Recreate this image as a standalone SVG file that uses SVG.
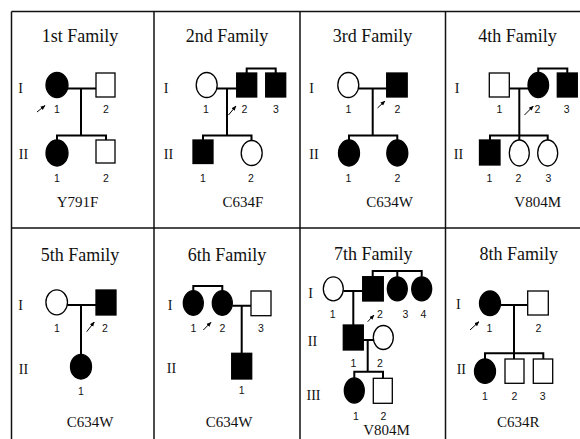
<svg xmlns="http://www.w3.org/2000/svg" width="580" height="439" viewBox="0 0 580 439">
<style>
.bg{fill:#fff}
.grid{stroke:#111;stroke-width:1.5;fill:none}
.ln{stroke:#000;stroke-width:2;fill:none}
.aff{fill:#000;stroke:#000;stroke-width:1.3}
.un{fill:#fff;stroke:#000;stroke-width:1.3}
.title{font-family:"Liberation Serif","Times New Roman",serif;font-size:18px;fill:#111;text-anchor:middle}
.mut{font-family:"Liberation Serif","Times New Roman",serif;font-size:15px;fill:#111;text-anchor:middle}
.gen{font-family:"Liberation Serif","Times New Roman",serif;font-size:14px;fill:#111;text-anchor:middle}
.num{font-family:"Liberation Sans",Arial,sans-serif;font-size:10.5px;fill:#111;text-anchor:middle}
.arr{stroke:#000;stroke-width:1;fill:none;marker-end:url(#ah)}
</style>
<defs>
<marker id="ah" viewBox="0 0 10 10" refX="9" refY="5" markerWidth="5" markerHeight="5" orient="auto" markerUnits="userSpaceOnUse">
<path d="M0,1 L10,5 L0,9 z" fill="#000"/>
</marker>
</defs>
<rect class="bg" x="0" y="0" width="580" height="439"/>
<g id="grid">
<line class="grid" x1="11.5" y1="11.5" x2="580" y2="11.5"/>
<line class="grid" x1="11.5" y1="228" x2="580" y2="228"/>
<line class="grid" x1="11.5" y1="11.5" x2="11.5" y2="439"/>
<line class="grid" x1="154" y1="11.5" x2="154" y2="439"/>
<line class="grid" x1="300" y1="11.5" x2="300" y2="439"/>
<line class="grid" x1="445.5" y1="11.5" x2="445.5" y2="439"/>
</g>

<!-- Panel 1 -->
<g id="family1">
<text class="title" x="80" y="42">1st Family</text>
<text class="gen" x="20.5" y="93">I</text>
<text class="gen" x="23.5" y="159">II</text>
<g id="connectors1">
<path class="ln" d="M67,88.5 H96 M81,88.5 V135.5 M57,140 V135.5 H106 V140"/>
</g>
<g id="f1-I-1"><ellipse class="aff" cx="57" cy="85" rx="11" ry="12.5"/><text class="num" x="57" y="113">1</text></g>
<g id="f1-I-2"><rect class="un" x="96" y="73" width="19" height="24"/><text class="num" x="106" y="113">2</text></g>
<g id="f1-II-1"><ellipse class="aff" cx="57" cy="153" rx="11" ry="13"/><text class="num" x="57" y="182">1</text></g>
<g id="f1-II-2"><rect class="un" x="96" y="140" width="19" height="23"/><text class="num" x="106" y="182">2</text></g>
<line class="arr" x1="37" y1="112" x2="45" y2="105.5"/>
<text class="mut" x="77.5" y="207">Y791F</text>
</g>

<!-- Panel 2 -->
<g id="family2">
<text class="title" x="227" y="42">2nd Family</text>
<text class="gen" x="166" y="93">I</text>
<text class="gen" x="168.5" y="159">II</text>
<g id="connectors2">
<path class="ln" d="M217,88.5 H237 M227,88.5 V135.5 M203,140 V135.5 H251.5 V140 M246.7,73 V68.5 H275.7 V73"/>
</g>
<g id="f2-I-1"><ellipse class="un" cx="206.7" cy="85" rx="10.5" ry="12.5"/><text class="num" x="206" y="113">1</text></g>
<g id="f2-I-2"><rect class="aff" x="236.7" y="73" width="20" height="24"/><text class="num" x="244.5" y="113">2</text></g>
<g id="f2-I-3"><rect class="aff" x="265.7" y="73" width="20" height="24"/><text class="num" x="276" y="113">3</text></g>
<g id="f2-II-1"><rect class="aff" x="193" y="140" width="20" height="23.5"/><text class="num" x="203" y="182">1</text></g>
<g id="f2-II-2"><ellipse class="un" cx="251.7" cy="153" rx="10.5" ry="12.5"/><text class="num" x="251" y="182">2</text></g>
<line class="arr" x1="228.5" y1="115" x2="236" y2="106"/>
<text class="mut" x="243" y="207">C634F</text>
</g>

<!-- Panel 3 -->
<g id="family3">
<text class="title" x="372.5" y="42">3rd Family</text>
<text class="gen" x="311.5" y="93">I</text>
<text class="gen" x="314" y="159">II</text>
<g id="connectors3">
<path class="ln" d="M359,88.5 H387 M372.7,88.5 V135.5 M349,140 V135.5 H397.3 V140"/>
</g>
<g id="f3-I-1"><ellipse class="un" cx="348.3" cy="85" rx="10.5" ry="12.5"/><text class="num" x="348.3" y="113">1</text></g>
<g id="f3-I-2"><rect class="aff" x="386.7" y="73" width="20.5" height="24"/><text class="num" x="397.3" y="113">2</text></g>
<g id="f3-II-1"><ellipse class="aff" cx="349" cy="153" rx="10.5" ry="13"/><text class="num" x="348.5" y="182">1</text></g>
<g id="f3-II-2"><ellipse class="aff" cx="397.3" cy="153" rx="10.5" ry="13"/><text class="num" x="397.3" y="182">2</text></g>
<line class="arr" x1="377.5" y1="108" x2="385" y2="101"/>
<text class="mut" x="389.7" y="207">C634W</text>
</g>

<!-- Panel 4 -->
<g id="family4">
<text class="title" x="517.5" y="42">4th Family</text>
<text class="gen" x="457" y="93">I</text>
<text class="gen" x="458.5" y="159">II</text>
<g id="connectors4">
<path class="ln" d="M509.3,88.5 H528 M519.3,88.5 V135.5 M490,140 V135.5 H547.7 V140 M519.3,135.5 V140 M538.3,72.5 V68.5 H567.3 V73"/>
</g>
<g id="f4-I-1"><rect class="un" x="489.3" y="73" width="20" height="24"/><text class="num" x="499.3" y="113">1</text></g>
<g id="f4-I-2"><ellipse class="aff" cx="538.3" cy="85" rx="10.3" ry="12.5"/><text class="num" x="537.5" y="113">2</text></g>
<g id="f4-I-3"><rect class="aff" x="557.3" y="73" width="20" height="24"/><text class="num" x="566.7" y="113">3</text></g>
<g id="f4-II-1"><rect class="aff" x="479.5" y="140" width="20.5" height="25"/><text class="num" x="489.3" y="182">1</text></g>
<g id="f4-II-2"><ellipse class="un" cx="519.3" cy="153" rx="10" ry="13"/><text class="num" x="518.3" y="182">2</text></g>
<g id="f4-II-3"><ellipse class="un" cx="547.7" cy="153" rx="10" ry="13"/><text class="num" x="548.3" y="182">3</text></g>
<line class="arr" x1="524.5" y1="115" x2="533.3" y2="106"/>
<text class="mut" x="537.7" y="207">V804M</text>
</g>

<!-- Panel 5 -->
<g id="family5">
<text class="title" x="80" y="260.5">5th Family</text>
<text class="gen" x="20.5" y="310">I</text>
<text class="gen" x="23.5" y="374.3">II</text>
<g id="connectors5">
<path class="ln" d="M67.5,305 H96 M81,305 V354.5"/>
</g>
<g id="f5-I-1"><ellipse class="un" cx="56.7" cy="302.3" rx="10.8" ry="12.5"/><text class="num" x="57" y="332.3">1</text></g>
<g id="f5-I-2"><rect class="aff" x="96" y="290" width="20" height="25"/><text class="num" x="105" y="332.3">2</text></g>
<g id="f5-II-1"><ellipse class="aff" cx="81" cy="366.7" rx="10.5" ry="12.3"/><text class="num" x="81" y="395">1</text></g>
<line class="arr" x1="86.7" y1="331.7" x2="94.3" y2="322"/>
<text class="mut" x="90" y="426.7">C634W</text>
</g>

<!-- Panel 6 -->
<g id="family6">
<text class="title" x="227" y="260.5">6th Family</text>
<text class="gen" x="170" y="310">I</text>
<text class="gen" x="171.5" y="373.3">II</text>
<g id="connectors6">
<path class="ln" d="M193.3,291 V286 H222.3 V291 M232.3,305.7 H251 M241.7,305.7 V353.3"/>
</g>
<g id="f6-I-1"><ellipse class="aff" cx="193.3" cy="303" rx="10" ry="12.3"/><text class="num" x="193.3" y="331.7">1</text></g>
<g id="f6-I-2"><ellipse class="aff" cx="222.3" cy="303" rx="10" ry="12.3"/><text class="num" x="222.3" y="331.7">2</text></g>
<g id="f6-I-3"><rect class="un" x="251" y="291" width="20" height="24.7"/><text class="num" x="261" y="331.7">3</text></g>
<g id="f6-II-1"><rect class="aff" x="231.7" y="353.3" width="20" height="25.7"/><text class="num" x="241.7" y="394">1</text></g>
<line class="arr" x1="203.3" y1="330" x2="211" y2="322.3"/>
<text class="mut" x="229" y="426.7">C634W</text>
</g>

<!-- Panel 7 -->
<g id="family7">
<text class="title" x="373.3" y="260.2">7th Family</text>
<text class="gen" x="310.5" y="298.3">I</text>
<text class="gen" x="312.5" y="345.7">II</text>
<text class="gen" x="313.5" y="400">III</text>
<g id="connectors7">
<path class="ln" d="M343.3,291 H362.7 M353.3,291 V325 M372.7,276.7 V271 H421.7 V276.7 M397.3,271 V276.7 M363.3,340 H373.3 M367.7,340 V371.7 M354.3,378 V371.7 H383 V378.3"/>
</g>
<g id="f7-I-1"><ellipse class="un" cx="333.3" cy="288.8" rx="10" ry="12"/><text class="num" x="332.7" y="317.7">1</text></g>
<g id="f7-I-2"><rect class="aff" x="362.7" y="276.7" width="20.6" height="24.3"/><text class="num" x="380" y="317.7">2</text></g>
<g id="f7-I-3"><ellipse class="aff" cx="397.3" cy="288.8" rx="10" ry="12"/><text class="num" x="405.3" y="317.7">3</text></g>
<g id="f7-I-4"><ellipse class="aff" cx="421.7" cy="288.8" rx="10" ry="12"/><text class="num" x="423.3" y="317.7">4</text></g>
<g id="f7-II-1"><rect class="aff" x="343.3" y="325" width="20" height="25"/><text class="num" x="353.3" y="366.7">1</text></g>
<g id="f7-II-2"><ellipse class="un" cx="383.3" cy="337.5" rx="10" ry="12"/><text class="num" x="380" y="366.7">2</text></g>
<g id="f7-III-1"><ellipse class="aff" cx="354.3" cy="390.5" rx="10" ry="12.5"/><text class="num" x="356" y="420">1</text></g>
<g id="f7-III-2"><rect class="un" x="373.3" y="378.3" width="19" height="25"/><text class="num" x="383.3" y="420">2</text></g>
<line class="arr" x1="367.7" y1="321.7" x2="374" y2="315"/>
<text class="mut" x="386.5" y="434.5">V804M</text>
</g>

<!-- Panel 8 -->
<g id="family8">
<text class="title" x="518.8" y="260.2">8th Family</text>
<text class="gen" x="458.3" y="309">I</text>
<text class="gen" x="461.3" y="374.3">II</text>
<g id="connectors8">
<path class="ln" d="M500.5,305 H527.7 M514,305 V353.3 M485,359 V353.3 H543.3 V359 M514,353.3 V359"/>
</g>
<g id="f8-I-1"><ellipse class="aff" cx="490" cy="303.3" rx="10.5" ry="12.3"/><text class="num" x="489.3" y="331.7">1</text></g>
<g id="f8-I-2"><rect class="un" x="527.7" y="291" width="20.6" height="24"/><text class="num" x="538.3" y="331.7">2</text></g>
<g id="f8-II-1"><ellipse class="aff" cx="485" cy="371.2" rx="10.5" ry="12.2"/><text class="num" x="485" y="400">1</text></g>
<g id="f8-II-2"><rect class="un" x="505" y="359" width="19" height="24.3"/><text class="num" x="514.3" y="400">2</text></g>
<g id="f8-II-3"><rect class="un" x="533.3" y="359" width="19.4" height="24.3"/><text class="num" x="542.7" y="400">3</text></g>
<line class="arr" x1="470" y1="330" x2="479" y2="321.7"/>
<text class="mut" x="518.3" y="426.7">C634R</text>
</g>
</svg>
